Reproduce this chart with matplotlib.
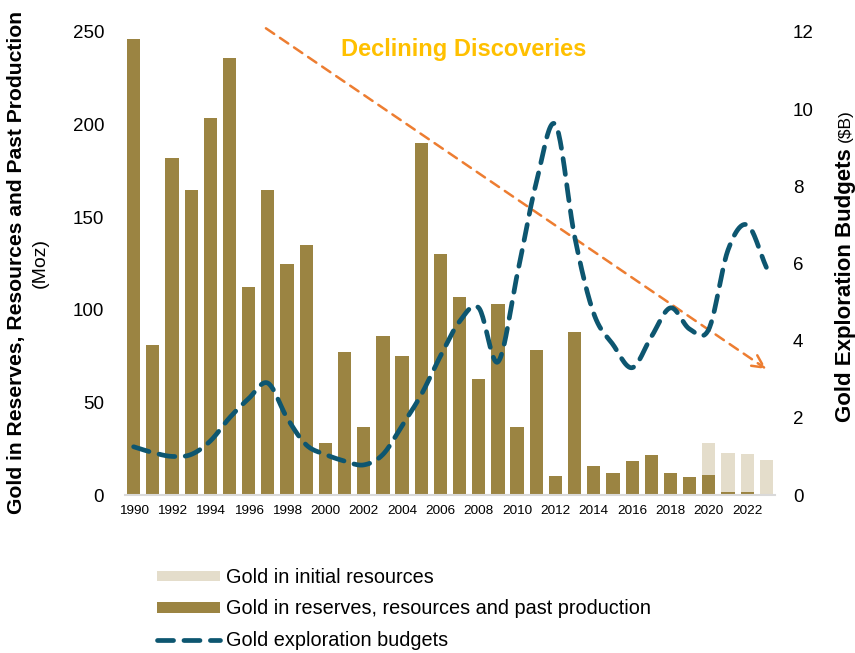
import numpy as np
import matplotlib
matplotlib.use("Agg")
import matplotlib.pyplot as plt
from matplotlib.lines import Line2D
from matplotlib.patches import Patch

plt.rcParams["font.family"] = ["Liberation Sans", "DejaVu Sans"]

years = list(range(1990, 2024))
reserves = [246, 81, 182, 164.5, 203.5, 236, 112.5, 164.5, 124.5, 135,
            28, 77, 36.5, 86, 75, 190, 130, 107, 62.5, 103,
            36.5, 78.5, 10, 88, 15.5, 12, 18.5, 21.5, 12, 9.5,
            11, 1.5, 1.5, 0]
initial = [0] * 30 + [17, 21, 20.5, 19]
budgets = [1.25, 1.1, 1.0, 1.05, 1.4, 2.0, 2.5, 2.9, 2.0, 1.3,
           1.05, 0.88, 0.78, 1.05, 1.8, 2.6, 3.6, 4.5, 4.85, 3.45,
           5.7, 8.1, 9.6, 6.7, 4.7, 3.9, 3.3, 4.1, 4.85, 4.3,
           4.3, 6.35, 7.0, 5.9]
xtick_years = list(range(1990, 2023, 2))

GOLD = "#9B8442"
PALE = "#E4DDCB"
TEAL = "#0D5670"
ORANGE = "#ED7D31"
YELLOW = "#FFC000"


def catmull_rom(x, y, n=24):
    """Smooth curve through every (x, y) point, as a spreadsheet 'smoothed line'."""
    x = np.asarray(x, float)
    y = np.asarray(y, float)
    px = np.concatenate([[2 * x[0] - x[1]], x, [2 * x[-1] - x[-2]]])
    py = np.concatenate([[2 * y[0] - y[1]], y, [2 * y[-1] - y[-2]]])
    xs, ys = [], []
    t = np.linspace(0, 1, n, endpoint=False)
    for i in range(1, len(px) - 2):
        for arr, out in ((px, xs), (py, ys)):
            p0, p1, p2, p3 = arr[i - 1], arr[i], arr[i + 1], arr[i + 2]
            out.extend(0.5 * ((2 * p1) + (-p0 + p2) * t
                              + (2 * p0 - 5 * p1 + 4 * p2 - p3) * t ** 2
                              + (-p0 + 3 * p1 - 3 * p2 + p3) * t ** 3))
    xs.append(x[-1])
    ys.append(y[-1])
    return np.array(xs), np.array(ys)


fig = plt.figure(figsize=(8.55, 6.53), dpi=100)
W, H = 855, 653
ax = fig.add_axes([125 / W, 1 - 495 / H, (775 - 125) / W, (495 - 32) / H])

ax.bar(years, reserves, width=0.69, color=GOLD, zorder=2)
ax.bar(years, initial, width=0.69, bottom=reserves, color=PALE, zorder=2)

ax.set_xlim(1989.55, 2023.45)
ax.set_ylim(0, 250)
ax.set_yticks(range(0, 251, 50))
ax.set_xticks(xtick_years)
ax.tick_params(axis="y", length=0, pad=15, labelsize=13.5)
ax.tick_params(axis="x", length=0, pad=7, labelsize=9.7)
for s in ("top", "right", "left"):
    ax.spines[s].set_visible(False)
ax.spines["bottom"].set_color("#D9D9D9")
ax.spines["bottom"].set_linewidth(1.5)

ax2 = ax.twinx()
ax2.set_ylim(0, 12)
ax2.set_yticks(range(0, 13, 2))
ax2.tick_params(axis="y", length=0, pad=13, labelsize=13.5)
for s in ax2.spines.values():
    s.set_visible(False)

sx, sy = catmull_rom(years, budgets)
ax2.plot(sx, sy, color=TEAL, lw=3.4, dashes=(3.4, 2.2),
         dash_capstyle="round", solid_capstyle="round", zorder=4)

# Downward trend arrow
ax.annotate("", xy=(2023.0, 68), xytext=(1996.9, 252),
            xycoords="data", annotation_clip=False,
            arrowprops=dict(arrowstyle="->,head_length=0.9,head_width=0.45",
                            color=ORANGE, lw=1.8, linestyle=(0, (4, 2.8)),
                            shrinkA=0, shrinkB=0), zorder=5)
ax.text(2007.2, 240.5, "Declining Discoveries", color=YELLOW, fontsize=17,
        fontweight="bold", ha="center", va="center", zorder=6)

# Axis titles
fig.text(17 / W, 1 - 263 / H, "Gold in Reserves, Resources and Past Production",
         rotation=90, ha="center", va="center", fontsize=15.2, fontweight="bold")
fig.text(40 / W, 1 - 263 / H, "(Moz)", rotation=90, ha="center", va="center",
         fontsize=14)
fig.text(845 / W, 1 - 422 / H, "Gold Exploration Budgets", rotation=90,
         ha="center", va="bottom", fontsize=16, fontweight="bold")
fig.text(845 / W, 1 - 109 / H, "($B)", rotation=90, ha="center", va="top",
         fontsize=12.5)

handles = [Patch(facecolor=PALE, edgecolor="none"),
           Patch(facecolor=GOLD, edgecolor="none"),
           Line2D([], [], color=TEAL, lw=3.4, dashes=(3.4, 2.2),
                  dash_capstyle="round")]
labels = ["Gold in initial resources",
          "Gold in reserves, resources and past production",
          "Gold exploration budgets"]
fig.legend(handles, labels, loc="center left",
           bbox_to_anchor=(157 / W, 1 - 609 / H), frameon=False,
           fontsize=14.3, handlelength=3.15, handleheight=0.45,
           handletextpad=0.3, labelspacing=0.62, borderpad=0,
           borderaxespad=0)

fig.savefig("out.png", dpi=100)
